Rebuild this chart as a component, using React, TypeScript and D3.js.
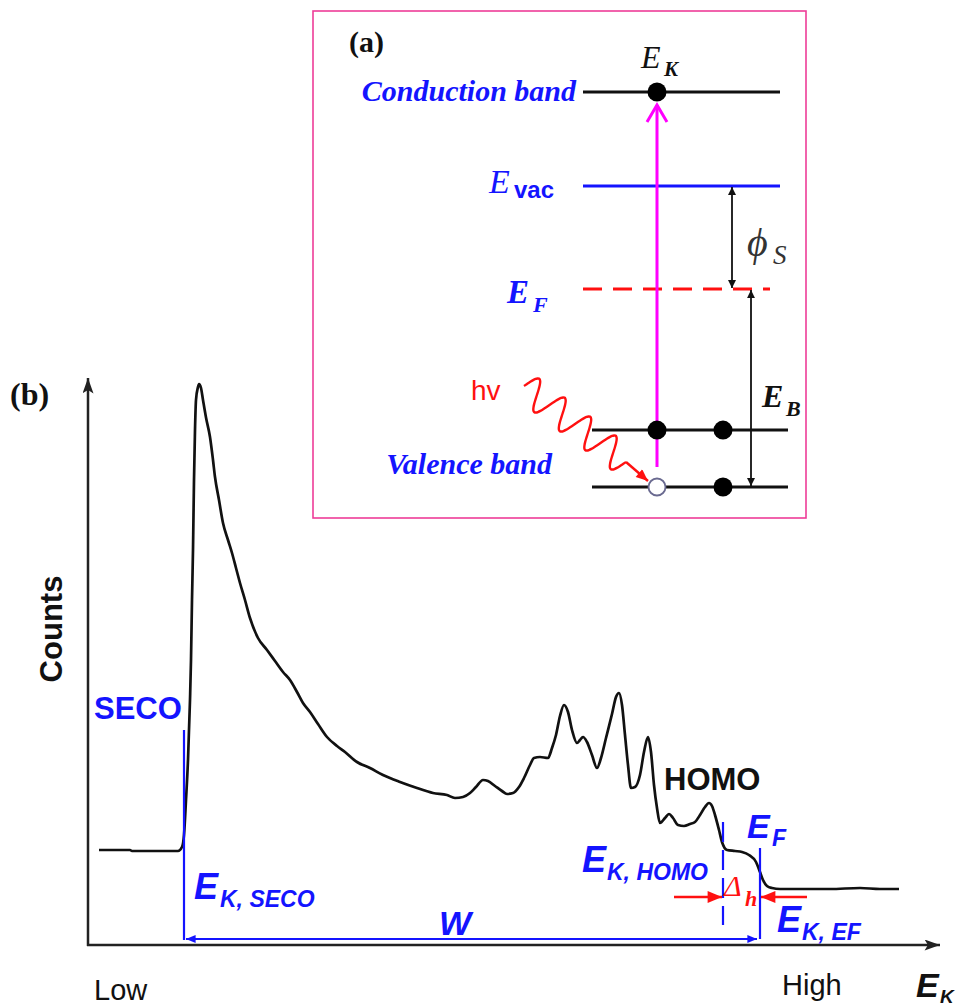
import React from 'react';
import * as d3 from 'd3';

// ---- Spectrum (b): kinetic energy (arb.) vs counts (arb.)
const energy = [1.1, 4.2, 4.4, 9.0, 9.4, 9.6, 9.8, 10.0, 10.2, 10.3, 10.4, 10.5, 10.6, 10.7, 10.8, 11.0, 11.1, 11.3, 11.5, 11.8, 12.2, 12.5, 12.7, 13.1, 13.5, 14.0, 14.4, 14.8, 15.2, 15.7, 16.2, 17.0, 17.9, 18.7, 19.5, 20.2, 20.9, 21.5, 22.2, 23.0, 23.9, 24.9, 25.7, 26.9, 28.2, 29.5, 31.2, 32.9, 34.5, 35.9, 36.7, 37.5, 38.2, 38.8, 39.5, 40.0, 40.7, 41.4, 41.9, 42.5, 43.1, 43.6, 44.2, 44.6, 45.2, 46.0, 46.4, 46.8, 47.2, 47.6, 48.0, 48.4, 48.9, 49.2, 49.5, 49.9, 50.4, 50.9, 51.3, 51.8, 52.4, 52.8, 53.1, 53.4, 53.7, 54.0, 54.3, 54.7, 55.2, 55.6, 56.0, 56.3, 56.6, 56.9, 57.2, 57.7, 58.1, 58.5, 59.0, 59.6, 60.2, 60.7, 61.2, 61.7, 62.1, 62.4, 62.7, 63.1, 63.4, 63.9, 64.7, 65.4, 66.1, 66.8, 67.2, 67.5, 67.9, 68.4, 69.2, 71.2, 74.2, 77.2, 79.2, 81.1];
const counts = [19, 19, 18.8, 18.8, 19.6, 22, 29, 37, 49, 57, 69, 79, 93, 103, 109, 111.6, 112.2, 111.4, 109, 105.5, 101.6, 97, 93.6, 89, 84.4, 81, 78.4, 75.4, 72.4, 69, 65.4, 61.4, 59, 56.8, 54.6, 53, 50.6, 48.4, 46.6, 44.2, 41.6, 39.8, 38.6, 36.6, 35.4, 34, 32.6, 31.4, 30.4, 30, 29.4, 29.6, 30.4, 31.6, 33, 32.8, 31.8, 30.8, 30.2, 30.4, 31.6, 33.4, 36, 37.4, 37.6, 37.4, 39.4, 42, 45.8, 48, 46.6, 43, 40.4, 41, 41.6, 40.6, 38, 35.4, 37.4, 41.4, 46.2, 49.6, 50.4, 48, 42, 36, 31.4, 31.6, 34, 38.6, 41.6, 38.6, 32, 27.4, 24.4, 25.4, 26.2, 25.4, 24, 23.8, 24.2, 24.6, 26, 27.6, 28.4, 27.8, 26, 23, 20.6, 19, 18.8, 18.6, 18, 16.6, 14.6, 13, 11.8, 11.4, 11.2, 11.2, 11.2, 11.4, 11.2, 11.2];

const markerNames = ['SECO', 'HOMO', 'EF'];
const markerEnergy = [9.6, 63.5, 67.2];

// ---- Energy-level diagram (a)
const levelNames = ['Conduction band', 'Evac', 'EF', 'Valence1', 'Valence2'];
const levelEnergy = [10, 7.62, 5.01, 1.44, 0];

const BLUE = '#1414ff';
const RED = '#ff1010';
const SERIF = '"Liberation Serif", "Times New Roman", serif';
const SANS = '"Liberation Sans", Arial, sans-serif';

export default function App() {
  const W = 966, H = 1007;
  const x = d3.scaleLinear().domain([0, 85]).range([88, 938]);
  const y = d3.scaleLinear().domain([0, 113]).range([945, 380]);
  const spectrum = d3.line<number>()
    .curve(d3.curveMonotoneX)
    .x((_, i) => x(energy[i]))
    .y((d) => y(d))(counts) as string;

  const ly = d3.scaleLinear().domain([0, 10]).range([487, 92]);
  const lv = (name: string) => ly(levelEnergy[levelNames.indexOf(name)]);
  const mk = (name: string) => x(markerEnergy[markerNames.indexOf(name)]);

  const yCB = lv('Conduction band');
  const yVac = lv('Evac');
  const yEF = lv('EF');
  const yV1 = lv('Valence1');
  const yV2 = lv('Valence2');

  // photon wave (decorative)
  const p0 = [524, 386], p1 = [626, 462];
  const dx = p1[0] - p0[0], dy = p1[1] - p0[1];
  const L = Math.hypot(dx, dy);
  const ux = dx / L, uy = dy / L, nx = -uy, ny = ux;
  const wavePts: [number, number][] = d3.range(0, 1.0001, 0.01).map((t) => {
    const s = Math.sin(t * Math.PI * 2 * 4 + Math.PI) * 15;
    return [p0[0] + dx * t + nx * s, p0[1] + dy * t + ny * s];
  });
  const wave = d3.line().curve(d3.curveBasis)(wavePts) as string;

  const xSECO = mk('SECO'), xHOMO = mk('HOMO'), xEF = mk('EF');

  return (
    <svg width={W} height={H} style={{ position: 'absolute', left: 0, top: 0, display: 'block', background: '#fff' }}>
      <defs>
        <marker id="ahBlack" viewBox="0 0 10 10" refX="10" refY="5" markerWidth="8" markerHeight="8" markerUnits="userSpaceOnUse" orient="auto-start-reverse">
          <path d="M0,0 L10,5 L0,10 z" fill="#111" />
        </marker>
        <marker id="ahAxis" viewBox="0 0 14 10" refX="14" refY="5" markerWidth="16" markerHeight="11" markerUnits="userSpaceOnUse" orient="auto">
          <path d="M0,0 L14,5 L0,10 L3,5 z" fill="#222" />
        </marker>
        <marker id="ahBlue" viewBox="0 0 12 10" refX="12" refY="5" markerWidth="13" markerHeight="8" markerUnits="userSpaceOnUse" orient="auto-start-reverse">
          <path d="M0,0 L12,5 L0,10 z" fill={BLUE} />
        </marker>
        <marker id="ahRed" viewBox="0 0 12 10" refX="12" refY="5" markerWidth="16" markerHeight="12" markerUnits="userSpaceOnUse" orient="auto">
          <path d="M0,0 L12,5 L0,10 z" fill={RED} />
        </marker>
        <marker id="ahRedWave" viewBox="0 0 12 10" refX="12" refY="5" markerWidth="13" markerHeight="10" markerUnits="userSpaceOnUse" orient="auto">
          <path d="M0,0 L12,5 L0,10 z" fill={RED} />
        </marker>
      </defs>

      {/* ================= (a) inset ================= */}
      <rect x={313} y={11} width={493} height={507} fill="none" stroke="#ee3d98" strokeWidth={1.6} />
      <text x={349} y={52} fontFamily={SERIF} fontWeight="bold" fontSize={30} fill="#111">(a)</text>

      {/* conduction band */}
      <line x1={583} x2={780} y1={yCB} y2={yCB} stroke="#111" strokeWidth={3} />
      <text x={576} y={yCB + 9} textAnchor="end" fontFamily={SERIF} fontStyle="italic" fontWeight="bold" fontSize={30} fill={BLUE}>Conduction band</text>
      <text x={641} y={68} fontFamily={SERIF} fontStyle="italic" fontSize={32} fill="#111">E</text>
      <text x={664} y={76} fontFamily={SERIF} fontStyle="italic" fontWeight="bold" fontSize={21} fill="#111">K</text>

      {/* vacuum level */}
      <line x1={583} x2={780} y1={yVac} y2={yVac} stroke={BLUE} strokeWidth={3} />
      <text x={489} y={yVac + 7} fontFamily={SERIF} fontStyle="italic" fontSize={34} fill={BLUE}>E</text>
      <text x={514} y={yVac + 12} fontFamily={SANS} fontWeight="bold" fontSize={24} fill={BLUE}>vac</text>

      {/* Fermi level */}
      <line x1={583} x2={770} y1={yEF} y2={yEF} stroke={RED} strokeWidth={3} strokeDasharray="19,11" />
      <text x={507} y={yEF + 14} fontFamily={SERIF} fontStyle="italic" fontWeight="bold" fontSize={33} fill={BLUE}>E</text>
      <text x={533} y={yEF + 23} fontFamily={SERIF} fontStyle="italic" fontWeight="bold" fontSize={22} fill={BLUE}>F</text>

      {/* phi_S arrow */}
      <line x1={732} x2={732} y1={yVac + 1} y2={yEF - 1} stroke="#111" strokeWidth={1.8} markerStart="url(#ahBlack)" markerEnd="url(#ahBlack)" />
      <text x={747} y={256} fontFamily={SERIF} fontStyle="italic" fontSize={40} fill="#333">ϕ</text>
      <text x={773} y={264} fontFamily={SERIF} fontStyle="italic" fontSize={27} fill="#333">S</text>

      {/* E_B arrow */}
      <line x1={751} x2={751} y1={yEF + 1} y2={yV2 - 1} stroke="#111" strokeWidth={1.8} markerStart="url(#ahBlack)" markerEnd="url(#ahBlack)" />
      <text x={762} y={407} fontFamily={SERIF} fontStyle="italic" fontWeight="bold" fontSize={32} fill="#111">E</text>
      <text x={786} y={416} fontFamily={SERIF} fontStyle="italic" fontWeight="bold" fontSize={22} fill="#111">B</text>

      {/* valence bands */}
      <line x1={592} x2={788} y1={yV1} y2={yV1} stroke="#111" strokeWidth={3} />
      <line x1={592} x2={788} y1={yV2} y2={yV2} stroke="#111" strokeWidth={3} />
      <text x={552} y={yV2 - 13} textAnchor="end" fontFamily={SERIF} fontStyle="italic" fontWeight="bold" fontSize={30} fill={BLUE}>Valence band</text>

      {/* excitation arrow */}
      <line x1={657} x2={657} y1={yV2 - 20} y2={yCB + 13} stroke="#ff00ff" strokeWidth={3} />
      <polyline points={`647,${yCB + 30} 657,${yCB + 13} 667,${yCB + 30}`} fill="none" stroke="#ff00ff" strokeWidth={3} />

      {/* electrons */}
      <circle cx={657} cy={yCB} r={9.5} fill="#000" />
      <circle cx={657} cy={yV1} r={9.5} fill="#000" />
      <circle cx={723} cy={yV1} r={9.5} fill="#000" />
      <circle cx={723} cy={yV2} r={9.5} fill="#000" />
      <circle cx={657} cy={yV2} r={8.5} fill="#fff" stroke="#6a6a90" strokeWidth={1.8} />

      {/* photon */}
      <path d={wave} fill="none" stroke={RED} strokeWidth={2.4} />
      <line x1={626} y1={462} x2={648} y2={481} stroke={RED} strokeWidth={2.4} markerEnd="url(#ahRedWave)" />
      <text x={471} y={400} fontFamily={SANS} fontSize={28} fill={RED}>hv</text>

      {/* ================= (b) spectrum ================= */}
      <text x={10} y={405} fontFamily={SERIF} fontWeight="bold" fontSize={32} fill="#111">(b)</text>

      {/* axes */}
      <line x1={88} y1={946} x2={88} y2={378} stroke="#222" strokeWidth={2.5} markerEnd="url(#ahAxis)" />
      <line x1={87} y1={945} x2={940} y2={945} stroke="#222" strokeWidth={2.5} markerEnd="url(#ahAxis)" />
      <text transform="translate(62,629) rotate(-90)" textAnchor="middle" fontFamily={SANS} fontWeight="bold" fontSize={31} fill="#111">Counts</text>
      <text x={94} y={1000} fontFamily={SANS} fontSize={29} fill="#111">Low</text>
      <text x={782} y={995} fontFamily={SANS} fontSize={29} fill="#111">High</text>
      <text x={916} y={997} fontFamily={SANS} fontStyle="italic" fontWeight="bold" fontSize={34} fill="#111">E</text>
      <text x={940} y={1003} fontFamily={SANS} fontStyle="italic" fontWeight="bold" fontSize={19} fill="#111">K</text>

      {/* spectrum curve */}
      <path d={spectrum} fill="none" stroke="#111" strokeWidth={2.7} strokeLinejoin="round" />

      {/* SECO marker */}
      <line x1={xSECO} x2={xSECO} y1={730} y2={940} stroke={BLUE} strokeWidth={2.2} />
      <text x={94} y={719} fontFamily={SANS} fontWeight="bold" fontSize={31} fill={BLUE}>SECO</text>
      <text x={194} y={899} fontFamily={SANS} fontStyle="italic" fontWeight="bold" fontSize={36} fill={BLUE}>E</text>
      <text x={220} y={907} fontFamily={SANS} fontStyle="italic" fontWeight="bold" fontSize={23} fill={BLUE}>K, SECO</text>

      {/* W arrow */}
      <line x1={xSECO + 2} x2={xEF - 3} y1={939} y2={939} stroke={BLUE} strokeWidth={2.2} markerStart="url(#ahBlue)" markerEnd="url(#ahBlue)" />
      <text x={439} y={935} fontFamily={SANS} fontStyle="italic" fontWeight="bold" fontSize={34} fill={BLUE}>W</text>

      {/* HOMO marker */}
      <line x1={xHOMO} x2={xHOMO} y1={822} y2={925} stroke={BLUE} strokeWidth={2.2} strokeDasharray="20,8" />
      <text x={664} y={790} fontFamily={SANS} fontWeight="bold" fontSize={31} fill="#111">HOMO</text>
      <text x={582} y={872} fontFamily={SANS} fontStyle="italic" fontWeight="bold" fontSize={36} fill={BLUE}>E</text>
      <text x={607} y={880} fontFamily={SANS} fontStyle="italic" fontWeight="bold" fontSize={23} fill={BLUE}>K, HOMO</text>

      {/* EF marker */}
      <line x1={xEF} x2={xEF} y1={848} y2={939} stroke={BLUE} strokeWidth={2.2} />
      <text x={747} y={838} fontFamily={SANS} fontStyle="italic" fontWeight="bold" fontSize={34} fill={BLUE}>E</text>
      <text x={772} y={846} fontFamily={SANS} fontStyle="italic" fontWeight="bold" fontSize={23} fill={BLUE}>F</text>
      <text x={777} y={932} fontFamily={SANS} fontStyle="italic" fontWeight="bold" fontSize={36} fill={BLUE}>E</text>
      <text x={802} y={940} fontFamily={SANS} fontStyle="italic" fontWeight="bold" fontSize={23} fill={BLUE}>K, EF</text>

      {/* Delta_h arrows */}
      <line x1={674} x2={xHOMO - 1} y1={897} y2={897} stroke={RED} strokeWidth={2.6} markerEnd="url(#ahRed)" />
      <line x1={807} x2={xEF + 1} y1={897} y2={897} stroke={RED} strokeWidth={2.6} markerEnd="url(#ahRed)" />
      <text x={724} y={896} fontFamily={SERIF} fontStyle="italic" fontSize={30} fill={RED}>Δ</text>
      <text x={745} y={906} fontFamily={SERIF} fontStyle="italic" fontWeight="bold" fontSize={22} fill={RED}>h</text>
    </svg>
  );
}
